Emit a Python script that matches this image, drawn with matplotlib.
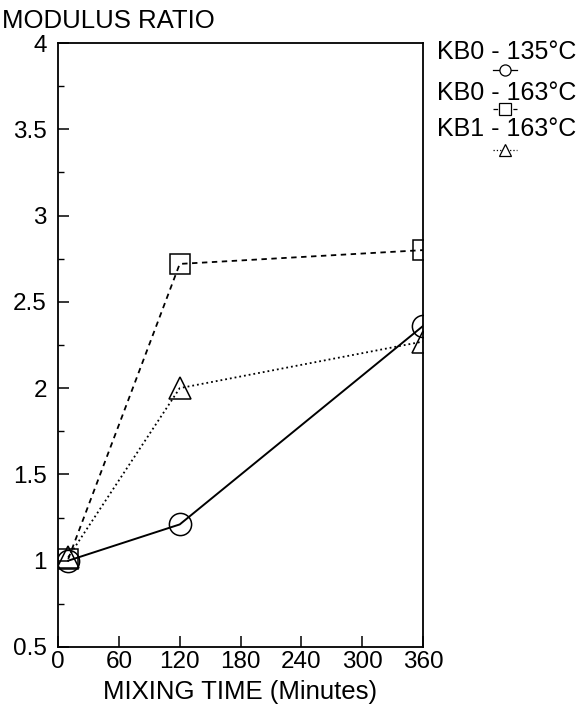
import numpy as np
import matplotlib
matplotlib.use('Agg')
import matplotlib.pyplot as plt
from matplotlib.lines import Line2D
from matplotlib.ticker import MultipleLocator

plt.rcParams['font.family'] = ['Liberation Sans', 'DejaVu Sans']

# mixing time (minutes) and modulus ratio for each blend
time = [10, 120, 360]
kb0_135 = [1.0, 1.21, 2.36]
kb0_163 = [1.01, 2.72, 2.80]
kb1_163 = [1.02, 2.0, 2.27]

labels = ['KB0 - 135°C', 'KB0 - 163°C', 'KB1 - 163°C']
xticks = [0, 60, 120, 180, 240, 300, 360]
yticks = [0.5, 1, 1.5, 2, 2.5, 3, 3.5, 4]

fig = plt.figure(figsize=(5.81, 7.18), dpi=100)
ax = fig.add_axes([0.100, 0.099, 0.628, 0.841])

ax.plot(time, kb0_135, 'k-', lw=1.4, marker='o', ms=16, mfc='none', mec='k', mew=1.1)
ax.plot(time, kb0_163, 'k--', lw=1.3, dashes=(3, 2.5), marker='s', ms=14, mfc='none', mec='k', mew=1.1)
ax.plot(time, kb1_163, 'k:', lw=1.3, marker='^', ms=16, mfc='none', mec='k', mew=1.1)

ax.set_xlim(0, 360)
ax.set_ylim(0.5, 4)
ax.set_xticks(xticks)
ax.set_xticklabels([str(t) for t in xticks])
ax.set_yticks(yticks)
ax.set_yticklabels(['%g' % v for v in yticks])
ax.yaxis.set_minor_locator(MultipleLocator(0.25))
ax.tick_params(direction='in', length=8, width=1.1, labelsize=17.5, top=False, right=False)
ax.tick_params(which='minor', direction='in', length=4, width=1.0, left=True)
ax.tick_params(axis='x', pad=3)
ax.tick_params(axis='y', pad=8)
for s in ax.spines.values():
    s.set_linewidth(1.3)

ax.set_xlabel('MIXING TIME (Minutes)', fontsize=18.5, labelpad=5)
fig.text(0.003, 0.988, 'MODULUS RATIO', fontsize=18.5, va='top', ha='left')

# key on the right, symbol drawn under each label
styles = [('-', 'o'), ('--', 's'), (':', '^')]
text_y = [0.928, 0.870, 0.820]
mark_y = [0.903, 0.848, 0.791]
for lab, (ls, mk), ty, my in zip(labels, styles, text_y, mark_y):
    fig.text(0.752, ty, lab, fontsize=18, va='center', ha='left')
    fig.add_artist(Line2D([0.849, 0.890], [my, my], transform=fig.transFigure,
                          color='k', lw=0.9, ls=ls))
    fig.add_artist(Line2D([0.869], [my], transform=fig.transFigure, marker=mk,
                          ms=8, mfc='white', mec='k', mew=0.9, ls='none'))

fig.savefig('out.png', dpi=100)
